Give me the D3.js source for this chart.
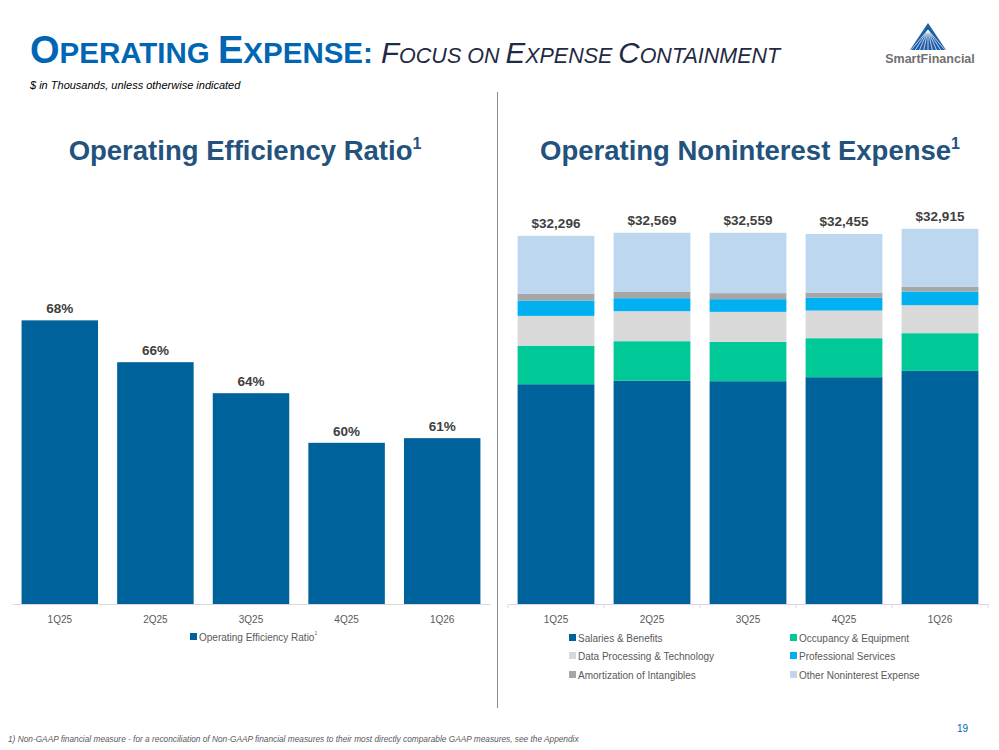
<!DOCTYPE html>
<html>
<head>
<meta charset="utf-8">
<script src="https://cdn.jsdelivr.net/npm/d3@7"></script>
<style>
  body { margin:0; background:#fff; }
  svg { font-family: Arial, "Liberation Sans", sans-serif; display:block; }
</style>
</head>
<body>
<div id="chart"></div>
<script>
// quarters shared by both charts
var quarters = ["1Q25", "2Q25", "3Q25", "4Q25", "1Q26"];

// left: operating efficiency ratio (%)
var efficiency = [68.3, 65.6, 63.6, 60.4, 60.7];

// right: operating noninterest expense components ($ thousands)
var salaries   = [19280, 19596, 19544, 19894, 20448];
var occupancy  = [3387, 3458, 3449, 3423, 3308];
var dataProc   = [2606, 2633, 2633, 2422, 2457];
var profServ   = [1343, 1141, 1115, 1141, 1194];
var amort      = [588, 579, 527, 439, 439];
var otherExp   = [5092, 5162, 5291, 5136, 5069];

var seriesNames = ["Salaries & Benefits", "Occupancy & Equipment", "Data Processing & Technology",
                   "Professional Services", "Amortization of Intangibles", "Other Noninterest Expense"];
var seriesColors = ["#00629b", "#00c896", "#d9d9d9", "#00b0f0", "#a6a6a6", "#bdd7ee"];

var width = 999, height = 750;
var svg = d3.select("#chart").append("svg").attr("width", width).attr("height", height);

// ---- header ----
var title = svg.append("text").attr("x", 30).attr("y", 63).attr("font-weight", "bold");
title.append("tspan").attr("fill", "#0066b3").attr("font-size", 38).text("O");
title.append("tspan").attr("fill", "#0066b3").attr("font-size", 29.5).text("PERATING ");
title.append("tspan").attr("fill", "#0066b3").attr("font-size", 38).text("E");
title.append("tspan").attr("fill", "#0066b3").attr("font-size", 29.5).text("XPENSE: ");
var sub = [["F", 29.5], ["OCUS ", 21.5], ["ON ", 21.5], ["E", 29.5], ["XPENSE ", 21.5], ["C", 29.5], ["ONTAINMENT", 21.5]];
sub.forEach(function(s){
  title.append("tspan").attr("fill", "#1f2a44").attr("font-weight", "normal")
    .attr("font-style", "italic").attr("font-size", s[1]).text(s[0]);
});

svg.append("text").attr("x", 30).attr("y", 89).attr("font-size", 11).attr("font-style", "italic")
  .attr("fill", "#000").text("$ in Thousands, unless otherwise indicated");

// logo
var logo = svg.append("g");
logo.append("path").attr("d", "M928,23 L946,50 L910,50 Z").attr("fill", "#1f5fa8");
for (var i = 0; i < 9; i++) {
  var xb = 911 + i * 4.25;
  logo.append("line").attr("x1", 928).attr("y1", 30).attr("x2", xb).attr("y2", 50)
    .attr("stroke", "#ffffff").attr("stroke-width", 0.7);
}
logo.append("text").attr("x", 930).attr("y", 63).attr("text-anchor", "middle")
  .attr("font-size", 12.5).attr("font-weight", "bold").attr("fill", "#707070").text("SmartFinancial");

// divider
svg.append("line").attr("x1", 497.5).attr("x2", 497.5).attr("y1", 92).attr("y2", 708)
  .attr("stroke", "#8c8c8c").attr("stroke-width", 1);

// chart titles
function chartTitle(x, txt) {
  var t = svg.append("text").attr("x", x).attr("y", 160).attr("text-anchor", "middle")
    .attr("font-size", 27.5).attr("font-weight", "bold").attr("fill", "#23527c");
  t.append("tspan").text(txt);
  t.append("tspan").attr("font-size", 16).attr("dy", -11).text("1");
}
chartTitle(245, "Operating Efficiency Ratio");
chartTitle(750, "Operating Noninterest Expense");

var baseY = 604;

// ---- left chart ----
var xl = d3.scaleBand().domain(quarters).range([12, 490]).paddingInner(0.2).paddingOuter(0.1);
var yl = d3.scaleLinear().domain([50, 70]).range([baseY, 294]);

var left = svg.append("g");
left.selectAll("rect").data(efficiency).enter().append("rect")
  .attr("x", function(d, i){ return xl(quarters[i]); })
  .attr("y", function(d){ return yl(d); })
  .attr("width", xl.bandwidth())
  .attr("height", function(d){ return baseY - yl(d); })
  .attr("fill", "#00629b");
left.selectAll("text.lbl").data(efficiency).enter().append("text").attr("class", "lbl")
  .attr("x", function(d, i){ return xl(quarters[i]) + xl.bandwidth() / 2; })
  .attr("y", function(d){ return yl(d) - 7; })
  .attr("text-anchor", "middle").attr("font-size", 13.5).attr("font-weight", "bold").attr("fill", "#404040")
  .text(function(d){ return Math.round(d) + "%"; });

var axL = left.append("g").attr("transform", "translate(0," + baseY + ")")
  .call(d3.axisBottom(xl).tickSize(0).tickPadding(12));
axL.select(".domain").attr("stroke", "#d9d9d9");
axL.selectAll("text").attr("font-size", 10).attr("fill", "#595959").attr("font-family", "Arial, 'Liberation Sans', sans-serif");

left.append("rect").attr("x", 190).attr("y", 633).attr("width", 7).attr("height", 7).attr("fill", "#00629b");
var ll = left.append("text").attr("x", 199).attr("y", 641).attr("font-size", 10).attr("fill", "#595959");
ll.append("tspan").text("Operating Efficiency Ratio");
ll.append("tspan").attr("font-size", 5).attr("dy", -6).text("1");

// ---- right chart ----
var rows = quarters.map(function(q, i){
  return { q: q, s0: salaries[i], s1: occupancy[i], s2: dataProc[i], s3: profServ[i], s4: amort[i], s5: otherExp[i] };
});
var keys = ["s0", "s1", "s2", "s3", "s4", "s5"];
var stack = d3.stack().keys(keys)(rows);

var xr = d3.scaleBand().domain(quarters).range([508, 988]).paddingInner(0.2).paddingOuter(0.1);
var yr = d3.scaleLinear().domain([0, 35000]).range([baseY, 205]);

var right = svg.append("g");
right.selectAll("g.layer").data(stack).enter().append("g").attr("class", "layer")
  .attr("fill", function(d, i){ return seriesColors[i]; })
  .selectAll("rect").data(function(d){ return d; }).enter().append("rect")
    .attr("x", function(d){ return xr(d.data.q); })
    .attr("y", function(d){ return yr(d[1]); })
    .attr("width", xr.bandwidth())
    .attr("height", function(d){ return yr(d[0]) - yr(d[1]); });

var totals = rows.map(function(r){ return d3.sum(keys, function(k){ return r[k]; }); });
right.selectAll("text.tot").data(totals).enter().append("text").attr("class", "tot")
  .attr("x", function(d, i){ return xr(quarters[i]) + xr.bandwidth() / 2; })
  .attr("y", function(d){ return yr(d) - 8; })
  .attr("text-anchor", "middle").attr("font-size", 13.5).attr("font-weight", "bold").attr("fill", "#404040")
  .text(function(d){ return "$" + d3.format(",")(d); });

var axR = right.append("g").attr("transform", "translate(0," + baseY + ")")
  .call(d3.axisBottom(xr).tickSize(0).tickPadding(12));
axR.select(".domain").attr("stroke", "#d9d9d9");
axR.selectAll("text").attr("font-size", 10).attr("fill", "#595959").attr("font-family", "Arial, 'Liberation Sans', sans-serif");
// boundary ticks between categories
var step = xr.step();
d3.range(6).forEach(function(i){
  var tx = 508 + i * step;
  right.append("line").attr("x1", tx).attr("x2", tx).attr("y1", baseY).attr("y2", baseY + 4)
    .attr("stroke", "#d9d9d9");
});

var legX = [569, 790], legY = [634, 652, 671];
var leg = right.selectAll("g.leg").data(seriesNames).enter().append("g").attr("class", "leg")
  .attr("transform", function(d, i){ return "translate(" + legX[i % 2] + "," + legY[Math.floor(i / 2)] + ")"; });
leg.append("rect").attr("width", 7).attr("height", 7).attr("fill", function(d, i){ return seriesColors[i]; });
leg.append("text").attr("x", 9).attr("y", 8).attr("font-size", 10).attr("fill", "#595959").text(function(d){ return d; });

// ---- footer ----
svg.append("text").attr("x", 8).attr("y", 742).attr("font-size", 8.3).attr("font-style", "italic").attr("fill", "#595959")
  .text("1) Non-GAAP financial measure - for a reconciliation of Non-GAAP financial measures to their most directly comparable GAAP measures, see the Appendix");
svg.append("text").attr("x", 957).attr("y", 732).attr("font-size", 10).attr("fill", "#0066b3").text("19");
</script>
</body>
</html>
